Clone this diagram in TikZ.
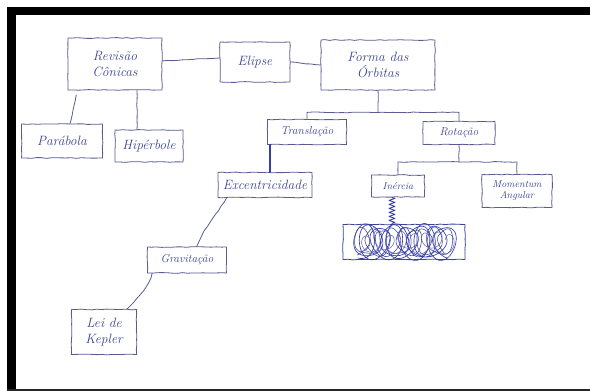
\documentclass[tikz,border=0pt]{standalone}
\usepackage{fontspec}
\usetikzlibrary{calc,decorations.pathmorphing}
\definecolor{pen}{RGB}{88,92,142}
\definecolor{ink}{RGB}{60,68,150}
\definecolor{heavy}{RGB}{54,60,168}
\begin{document}
\begin{tikzpicture}[x=1pt,y=-1pt,line join=round,line cap=round,
  sketch/.style={decorate,decoration={random steps,segment length=5pt,amplitude=0.4pt}},
  box/.style={draw=pen,line width=0.8pt,sketch,text=ink,inner sep=1pt,align=center,
    font=\itshape\fontsize{13.5}{15.5}\selectfont},
  small/.style={font=\itshape\fontsize{11.5}{13}\selectfont},
  tiny/.style={font=\itshape\fontsize{10}{11}\selectfont},
  link/.style={draw=pen,line width=0.8pt,sketch}]
\pgfmathsetseed{7}
% page and frame
\useasboundingbox (0,0) rectangle (590,391);
\fill[white] (0,0) rectangle (590,391);
\fill[black] (7,7) rectangle (590,15);
\fill[black] (7,7) rectangle (16,391);
\fill[black!85] (7,388.5) rectangle (590,391);

% concept boxes
\node[box,minimum width=94pt,minimum height=52pt] (rev) at (115,64) {Revisão\\Cônicas};
\node[box,minimum width=70pt,minimum height=40pt] (elip) at (255,62) {Elipse};
\node[box,minimum width=114pt,minimum height=50pt] (forma) at (378,65) {Forma das\\Órbitas};
\node[box,minimum width=81pt,minimum height=34pt] (parab) at (62,141) {Parábola};
\node[box,minimum width=68pt,minimum height=32pt] (hiper) at (149,146) {Hipérbole};
\node[box,small,minimum width=79pt,minimum height=25pt] (trans) at (307,132) {Translação};
\node[box,small,minimum width=72pt,minimum height=23pt] (rot) at (459,133) {Rotação};
\node[box,minimum width=94pt,minimum height=25pt] (exc) at (265,185) {Excentricidade};
\node[box,tiny,minimum width=53pt,minimum height=22pt] (inerc) at (398,186) {Inércia};
\node[box,tiny,minimum width=70pt,minimum height=33pt] (mom) at (517,191) {Momentum\\Angular};
\node[box,draw=ink,minimum width=122pt,minimum height=35pt] (scrib) at (404,242) {};
\node[box,small,minimum width=79pt,minimum height=26pt] (grav) at (187,260) {Gravitação};
\node[box,minimum width=65pt,minimum height=45pt] (kepler) at (104,332) {Lei de\\Kepler};

% scribbled-out box contents
\begin{scope}[shift={(scrib.center)}]
  \draw[heavy,line width=0.65pt] plot[domain=0:62.8,samples=700,smooth]
    ({-46+1.45*\x+13*sin(\x r)+2*sin(0.37*\x r)},{16*cos(\x r)+2.5*sin(1.7*\x r)});
  \draw[ink,line width=0.55pt] plot[domain=0:56,samples=600,smooth]
    ({-47+1.65*\x+10*sin(\x r+1)},{13*cos(\x r+1)-2*sin(2.3*\x r)});
  \draw[heavy!80,line width=0.5pt] plot[domain=0:44,samples=500,smooth]
    ({-44+2.1*\x+7*sin(1.1*\x r+2)},{9*cos(1.1*\x r+2)+3*sin(0.5*\x r)});
\end{scope}

% top row
\draw[link] ([yshift=3pt]rev.east) -- ([yshift=4pt]elip.west);
\draw[link] (elip.east) -- (forma.west);

% conic branches
\draw[link,shorten <=6pt] ([xshift=10pt]rev.south west) -- ([xshift=8pt]parab.north);
\coordinate (hx) at ([xshift=-12pt]hiper.north);
\draw[link] (hx |- rev.south) -- (hx);

% orbit branches
\coordinate (bus) at ($(forma.south)+(0,22)$);
\draw[link] (forma.south) -- (bus);
\draw[link] (trans.north) |- (bus) -| (rot.north);

\coordinate (bus2) at ($(rot.south)+(0,17)$);
\draw[link] (rot.south) -- (bus2);
\draw[link] (inerc.north) |- (bus2) -| (mom.north);

% translation chain
\coordinate (tx) at ([xshift=3pt]trans.south west);
\draw[heavy,line width=2.2pt] (tx) -- (tx |- exc.north);
\draw[link] ([xshift=9pt]exc.south west) .. controls +(-8,14) and +(6,-18) .. ([xshift=10pt]grav.north);
\draw[link] ([xshift=5pt]grav.south west) .. controls +(-4,14) and +(10,-10) .. ([xshift=-10pt]kepler.north east);

% rotation chain
\coordinate (zx) at ([xshift=-6pt]inerc.south);
\draw[heavy,line width=0.85pt,decorate,decoration={zigzag,segment length=4pt,amplitude=3pt}]
  (zx) -- (zx |- scrib.north);
\end{tikzpicture}
\end{document}
